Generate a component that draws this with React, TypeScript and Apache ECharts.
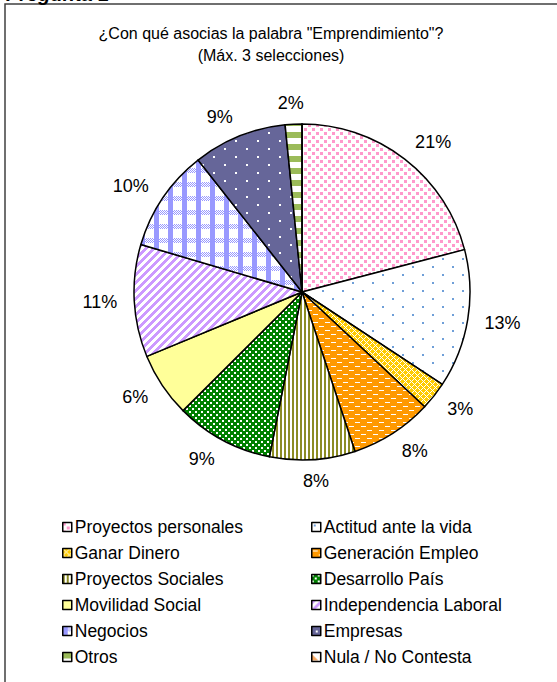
import React, { useEffect, useRef } from "react";
import * as echarts from "echarts";

const titleLines = ['¿Con qué asocias la palabra "Emprendimiento"?', "(Máx. 3 selecciones)"];
const categories = [
  "Proyectos personales",
  "Actitud ante la vida",
  "Ganar Dinero",
  "Generación Empleo",
  "Proyectos Sociales",
  "Desarrollo País",
  "Movilidad Social",
  "Independencia Laboral",
  "Negocios",
  "Empresas",
  "Otros",
  "Nula / No Contesta",
];
const values = [20.9, 13.3, 2.7, 7.9, 8.2, 9.4, 6.2, 10.8, 9.8, 9.0, 1.6, 0];

type Px = (x: number, y: number) => string | null;

function makePattern(w: number, h: number, bg: string, px: Px) {
  const c = document.createElement("canvas");
  c.width = w;
  c.height = h;
  const ctx = c.getContext("2d")!;
  ctx.fillStyle = bg;
  ctx.fillRect(0, 0, w, h);
  for (let y = 0; y < h; y++) {
    for (let x = 0; x < w; x++) {
      const col = px(x, y);
      if (col) {
        ctx.fillStyle = col;
        ctx.fillRect(x, y, 1, 1);
      }
    }
  }
  return { image: c.toDataURL(), repeat: "repeat", imageWidth: w, imageHeight: h } as any;
}

function buildPatterns() {
  const pink = "#FF99CC";
  return [
    makePattern(8, 8, "#ffffff", (x, y) =>
      (x < 3 && y < 3) || (x >= 4 && x < 7 && y >= 4 && y < 7) ? pink : null
    ),
    makePattern(20, 16, "#ffffff", (x, y) =>
      (x >= 2 && x < 4 && y >= 2 && y < 4) || (x >= 12 && x < 14 && y >= 10 && y < 12) ? "#6F9FD8" : null
    ),
    makePattern(6, 6, "#FFCC00", (x, y) => ((x + y) % 6 === 0 || (x - y + 6) % 6 === 0 ? "#ffffff" : null)),
    makePattern(12, 8, "#FF9900", (x, y) =>
      (y === 2 && x >= 1 && x < 6) || (y === 6 && x >= 7 && x < 12) ? "#ffffff" : null
    ),
    makePattern(4, 4, "#ffffff", (x) => (x < 2 ? "#8C8C24" : null)),
    makePattern(6, 6, "#008000", (x, y) =>
      (x < 2 && y < 2) || (x >= 3 && x < 5 && y >= 3 && y < 5) ? "#ffffff" : null
    ),
    makePattern(4, 4, "#FFFF99", () => null),
    makePattern(8, 8, "#ffffff", (x, y) => ((x + y) % 8 < 4 ? "#CC99FF" : null)),
    makePattern(14, 14, "#ffffff", (x, y) => {
      if (x < 5) return "#9999FF";
      if (y < 5 && (x + y) % 2 === 0) return "#9999FF";
      return null;
    }),
    makePattern(22, 16, "#666699", (x, y) =>
      (x >= 4 && x < 6 && y >= 4 && y < 6) || (x >= 15 && x < 17 && y >= 12 && y < 14) ? "#ffffff" : null
    ),
    makePattern(8, 12, "#9BBB59", (_x, y) => (y >= 6 ? "#ffffff" : null)),
    makePattern(8, 8, "#ffffff", (x, y) => (x + (7 - y) < 6 ? "#F8A860" : null)),
  ];
}

const CX = 302;
const CY = 292;
const R = 168;
const LABEL_GAP = 12;
const LABEL_GAP_X = 17;

export default function App() {
  const ref = useRef<HTMLDivElement>(null);
  useEffect(() => {
    if (!ref.current) return;
    const chart = echarts.init(ref.current, undefined, { renderer: "svg" });
    const patterns = buildPatterns();
    const total = values.reduce((a, b) => a + b, 0);
    const cum: number[] = [];
    values.reduce((acc, v, i) => {
      cum[i] = acc;
      return acc + v;
    }, 0);
    const data = categories.map((name, i) => ({
      name,
      value: values[i],
      itemStyle: { color: patterns[i] },
      label: values[i] === 0 ? { show: false } : undefined,
    }));
    const font = "Arial, 'Liberation Sans', sans-serif";
    const legendCommon = {
      orient: "vertical" as const,
      icon: "rect",
      itemWidth: 9,
      itemHeight: 9,
      itemGap: 8,
      selectedMode: false,
      itemStyle: { borderColor: "#000", borderWidth: 1.5 },
      textStyle: { fontFamily: font, fontSize: 17.5, color: "#000", lineHeight: 18, padding: [0, 0, 0, -2] },
    };
    chart.setOption({
      animation: false,
      backgroundColor: "#ffffff",
      title: {
        text: titleLines.join("\n"),
        left: 266,
        top: 17,
        textAlign: "center",
        textStyle: { fontFamily: font, fontSize: 16, fontWeight: "normal", color: "#000", lineHeight: 22 },
      },
      legend: [
        { ...legendCommon, left: 57, top: 513, data: categories.filter((_, i) => i % 2 === 0) },
        { ...legendCommon, left: 306, top: 513, data: categories.filter((_, i) => i % 2 === 1) },
      ],
      graphic: [
        {
          type: "rect",
          shape: { x: 5, y: 4, width: 600, height: 700 },
          style: { fill: "none", stroke: "#404040", lineWidth: 1.5 },
          silent: true,
        },
        {
          type: "text",
          x: 6,
          y: -16,
          style: { text: "Pregunta 1", font: "italic bold 20px Arial, 'Liberation Sans', sans-serif", fill: "#000" },
          silent: true,
        },
      ],
      series: [
        {
          type: "pie",
          center: [CX, CY],
          radius: R,
          startAngle: 90,
          clockwise: true,
          avoidLabelOverlap: false,
          itemStyle: { borderColor: "#000", borderWidth: 1.5 },
          label: {
            show: true,
            position: "outside",
            fontFamily: font,
            fontSize: 18,
            color: "#000",
            formatter: (p: any) => Math.round(p.percent) + "%",
          },
          labelLine: { show: false, length: 14, length2: 0 },
          labelLayout: (p: any) => {
            const i = p.dataIndex;
            const mid = ((cum[i] + values[i] / 2) / total) * Math.PI * 2;
            const ux = Math.sin(mid);
            const uy = -Math.cos(mid);
            const w = p.labelRect.width;
            const h = p.labelRect.height;
            const k = Math.max(-1, Math.min(1, ux * 3));
            return {
              x: CX + ux * (R + LABEL_GAP_X) + (k * w) / 2,
              y: CY + uy * (R + LABEL_GAP) + (uy * h) / 2,
              align: "center",
              verticalAlign: "middle",
            };
          },
          emphasis: { disabled: true },
          data,
        },
      ],
    });
    return () => chart.dispose();
  }, []);
  return (
    <div
      ref={ref}
      style={{ position: "fixed", left: 0, top: 0, width: 557, height: 682, background: "#fff" }}
    />
  );
}
